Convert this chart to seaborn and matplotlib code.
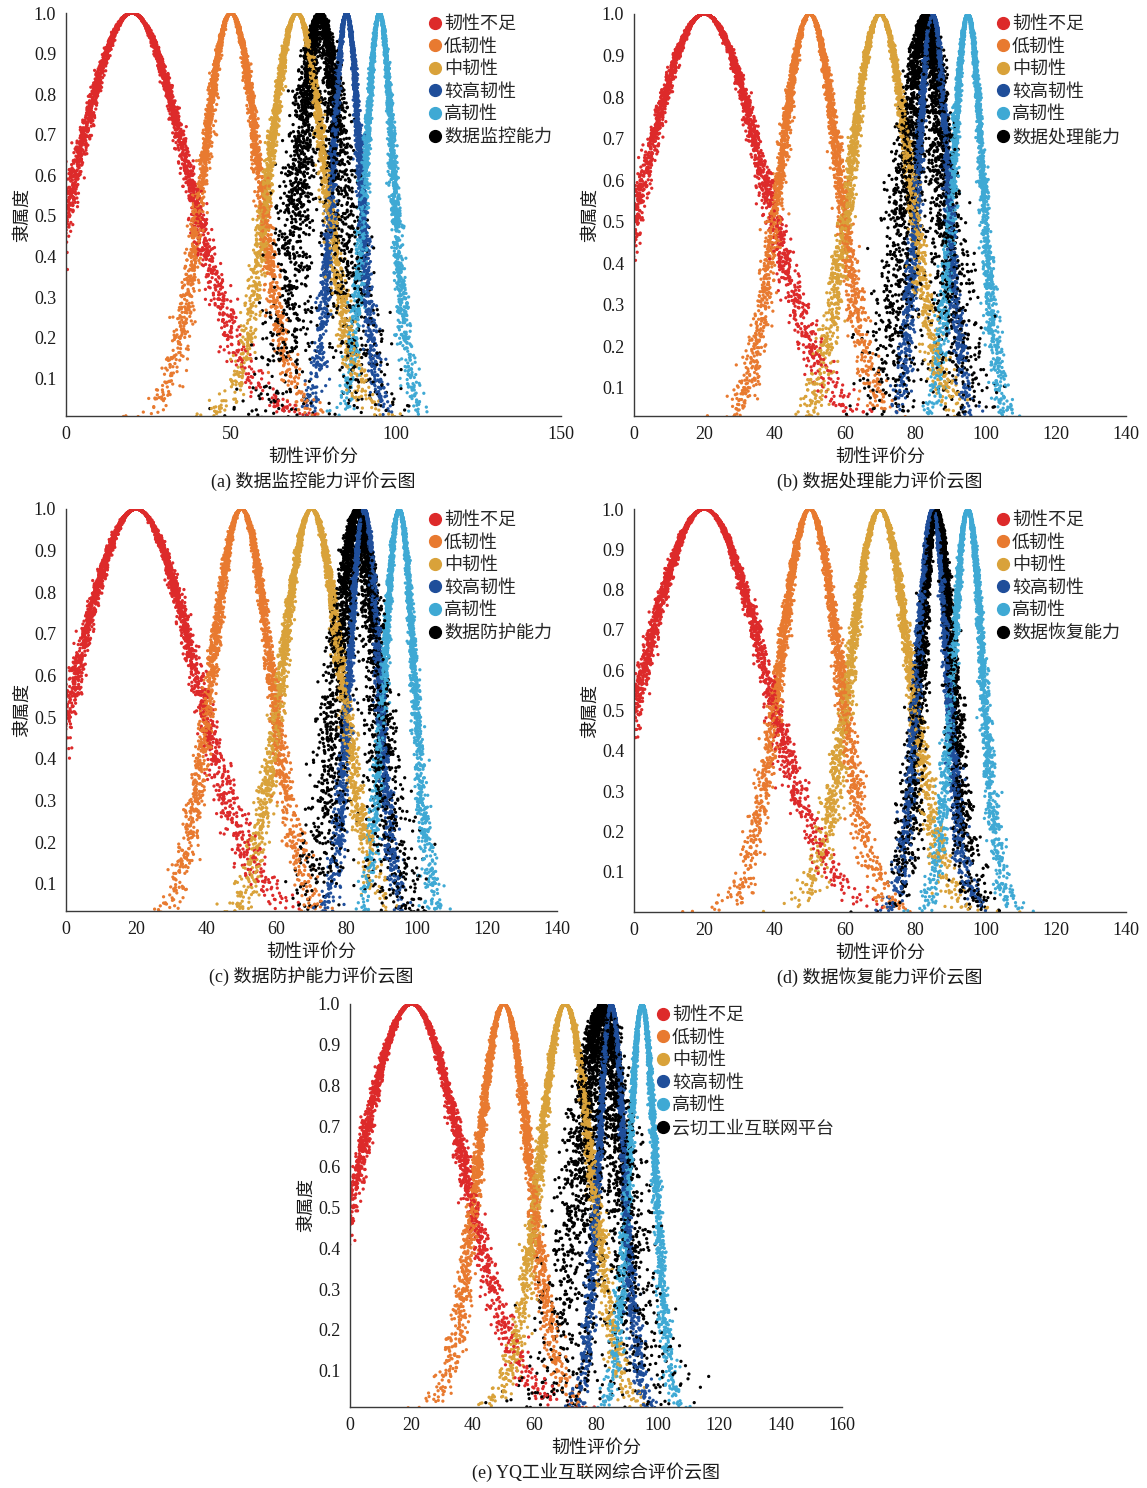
import numpy as np
import pandas as pd
import matplotlib
matplotlib.use("Agg")
import matplotlib.pyplot as plt
from matplotlib.lines import Line2D
import seaborn as sns

# ---------------- data (cloud-model digital characteristics) ----------------
GRADE_NAMES = ['韧性不足', '低韧性', '中韧性', '较高韧性', '高韧性']
GRADE_EX = [20.0, 50.0, 70.0, 85.0, 95.0]
GRADE_EN = [17.0, 8.5, 8.5, 4.25, 4.25]
GRADE_HE = [1.1, 0.85, 0.85, 0.6, 0.6]
GRADE_COLORS = ['#DD2A2A', '#E87A30', '#D9A23A', '#1F4E9A', '#3FA9D4']

PANEL_TAGS = ['(a)', '(b)', '(c)', '(d)', '(e)']
PANEL_NAMES = ['数据监控能力', '数据处理能力', '数据防护能力', '数据恢复能力', '云切工业互联网平台']
PANEL_CAPTIONS = ['数据监控能力评价云图', '数据处理能力评价云图', '数据防护能力评价云图',
                  '数据恢复能力评价云图', 'YQ工业互联网综合评价云图']
PANEL_EX = [77.0, 83.0, 83.0, 86.0, 82.0]
PANEL_EN = [6.0, 5.2, 5.5, 4.5, 6.5]
PANEL_HE = [2.5, 2.4, 2.0, 1.0, 3.4]
X_MAX = [150, 140, 140, 140, 160]
X_STEP = [50, 20, 20, 20, 20]
Y_MIN = [0.007, 0.032, 0.035, 0.0, 0.011]
Y_TICKS = [0.1, 0.2, 0.3, 0.4, 0.5, 0.6, 0.7, 0.8, 0.9, 1.0]
N_DROPS = 3000

# ---------------- layout (pixels) ----------------
W, H = 1147, 1488
AX_BOX = [(66, 13, 561, 416), (634, 14, 1126, 416), (66, 509, 557, 911),
          (634, 509, 1126, 912), (350, 1004, 842, 1407)]
LEG_POS = [(437, 22), (1005, 22), (437, 518), (1005, 518), (665, 1013)]

sns.set_theme(style="white")
plt.rcParams['font.family'] = ['Liberation Serif', 'Noto Sans CJK SC', 'DejaVu Sans']
plt.rcParams['axes.unicode_minus'] = False
FS = 13
SPINE = '#3a3a3a'


def cloud_drops(ex, en, he, n, rng):
    en_p = rng.normal(en, he, n)
    x = rng.normal(ex, np.abs(en_p))
    y = np.exp(-(x - ex) ** 2 / (2 * en_p ** 2))
    return x, y


fig = plt.figure(figsize=(W / 100, H / 100), dpi=100)

for i in range(5):
    rng = np.random.default_rng(100 + i)
    frames = []
    names = GRADE_NAMES + [PANEL_NAMES[i]]
    exs = GRADE_EX + [PANEL_EX[i]]
    ens = GRADE_EN + [PANEL_EN[i]]
    hes = GRADE_HE + [PANEL_HE[i]]
    for nm, ex, en, he in zip(names, exs, ens, hes):
        x, y = cloud_drops(ex, en, he, N_DROPS, rng)
        frames.append(pd.DataFrame({'x': x, 'y': y, 'cloud': nm}))
    df = pd.concat(frames, ignore_index=True)
    df = df.sample(frac=1.0, random_state=7 + i).reset_index(drop=True)
    palette = dict(zip(names, GRADE_COLORS + ['#000000']))

    l, t, r, b = AX_BOX[i]
    ax = fig.add_axes([l / W, 1 - b / H, (r - l) / W, (b - t) / H])
    sns.scatterplot(data=df, x='x', y='y', hue='cloud', palette=palette, hue_order=names,
                    s=5.5, linewidth=0, legend=False, ax=ax)
    ax.set_xlim(0, X_MAX[i])
    ax.set_ylim(Y_MIN[i], 1.0)
    ax.set_xticks(np.arange(0, X_MAX[i] + 1, X_STEP[i]))
    ax.set_yticks(Y_TICKS)
    ax.set_yticklabels([f'{v:.1f}' for v in Y_TICKS])
    for sp in ['top', 'right']:
        ax.spines[sp].set_visible(False)
    for sp in ['left', 'bottom']:
        ax.spines[sp].set_color(SPINE)
        ax.spines[sp].set_linewidth(1.0)
    ax.tick_params(direction='in', length=6, width=1.0, color=SPINE, labelsize=FS,
                   labelcolor='#1a1a1a', pad=7)
    ax.set_xlabel('韧性评价分', fontsize=FS, color='#1a1a1a', labelpad=4)
    ax.set_ylabel('隶属度', fontsize=FS, color='#1a1a1a', labelpad=2)

    handles = [Line2D([0], [0], marker='o', linestyle='none', markersize=8.5,
                      markerfacecolor=c, markeredgecolor=c)
               for c in GRADE_COLORS + ['#000000']]
    mx, my = LEG_POS[i]
    ax.legend(handles, names, loc='upper left',
              bbox_to_anchor=(mx / W - 0.0065, 1 - (my - 6) / H),
              bbox_transform=fig.transFigure, frameon=False, fontsize=FS,
              handlelength=0.6, handletextpad=0.2, labelspacing=0.31,
              borderpad=0, borderaxespad=0)

    cx = (l + r) / 2
    fig.text(cx / W, 1 - (b + 65) / H, f'{PANEL_TAGS[i]} {PANEL_CAPTIONS[i]}',
             ha='center', va='center', fontsize=FS, color='#1a1a1a')

fig.savefig('out.png', dpi=100, facecolor='white')
